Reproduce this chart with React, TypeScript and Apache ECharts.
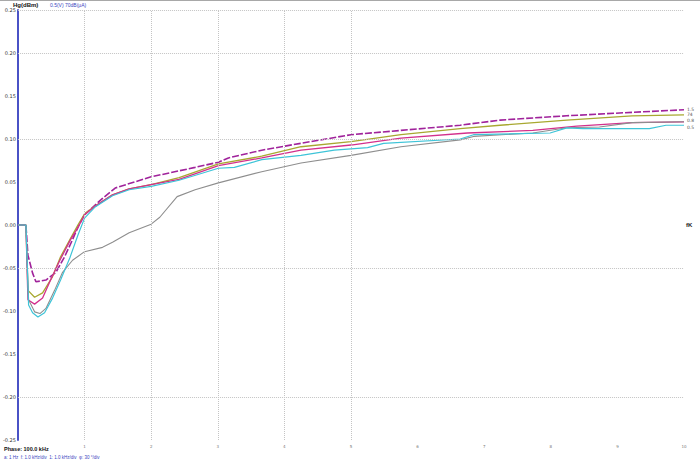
import React, { useEffect, useRef } from "react";
import * as echarts from "echarts";

const yTicks = { min: -0.25, max: 0.25, step: 0.05 };
const xTicks = { min: 0, max: 10, step: 1 };
const gridX = [1, 2, 3, 4, 5];
const gridY = [0.25, 0.2, 0.1, -0.05, -0.2];

const purple = [[0,0],[0.12,0],[0.15,-0.035],[0.22,-0.056],[0.27,-0.066],[0.42,-0.064],[0.57,-0.055],[0.70,-0.037],[0.82,-0.017],[0.91,-0.001],[1.0,0.012],[1.27,0.031],[1.46,0.043],[1.75,0.05],[2.0,0.056],[2.42,0.063],[2.66,0.067],[3.01,0.073],[3.16,0.078],[3.66,0.087],[4.25,0.095],[5.0,0.105],[5.75,0.11],[6.64,0.116],[7.24,0.122],[8.24,0.127],[9.22,0.131],[10,0.134]];
const olive = [[0,0],[0.12,0],[0.15,-0.076],[0.25,-0.084],[0.37,-0.079],[0.52,-0.06],[0.64,-0.037],[0.78,-0.017],[0.90,0],[1.0,0.013],[1.16,0.022],[1.42,0.035],[1.67,0.042],[2.0,0.047],[2.42,0.055],[3.01,0.071],[3.66,0.08],[4.25,0.091],[5.0,0.097],[5.75,0.105],[6.64,0.112],[7.24,0.116],[8.24,0.122],[9.22,0.127],[10,0.128]];
const pink = [[0,0],[0.12,0],[0.15,-0.087],[0.25,-0.092],[0.37,-0.085],[0.49,-0.064],[0.63,-0.041],[0.79,-0.017],[0.90,-0.003],[1.0,0.012],[1.16,0.022],[1.42,0.035],[1.67,0.042],[2.0,0.047],[2.42,0.053],[3.01,0.069],[3.66,0.078],[4.25,0.087],[5.0,0.093],[5.75,0.101],[6.75,0.107],[7.73,0.11],[8.39,0.115],[9.22,0.119],[10,0.12]];
const gray = [[0,0],[0.12,0],[0.16,-0.087],[0.25,-0.101],[0.33,-0.103],[0.42,-0.097],[0.55,-0.076],[0.67,-0.055],[0.82,-0.041],[1.0,-0.031],[1.27,-0.026],[1.42,-0.02],[1.67,-0.009],[2.0,0.001],[2.13,0.009],[2.39,0.033],[2.66,0.041],[3.01,0.049],[3.66,0.062],[4.25,0.072],[5.0,0.081],[5.75,0.091],[6.64,0.099],[6.84,0.103],[7.73,0.107],[8.24,0.113],[8.73,0.114],[9.22,0.119],[10,0.12]];
const cyan = [[0,0],[0.12,0],[0.16,-0.093],[0.22,-0.102],[0.30,-0.107],[0.40,-0.102],[0.52,-0.085],[0.64,-0.064],[0.78,-0.038],[0.90,-0.012],[1.0,0.008],[1.16,0.021],[1.42,0.034],[1.67,0.041],[2.0,0.045],[2.42,0.052],[3.01,0.066],[3.25,0.067],[3.66,0.076],[4.25,0.081],[4.75,0.087],[5.25,0.09],[5.49,0.095],[6.64,0.1],[6.84,0.105],[7.99,0.107],[8.24,0.113],[8.48,0.112],[9.48,0.112],[9.73,0.116],[10,0.116]];

const seriesDefs = [
  { name: "s1", data: purple, color: "#a0239b", end: "1.5", dash: [7, 2] as any, width: 1.6, off: [0, 0] },
  { name: "s2", data: olive, color: "#a8a830", end: "74", dash: "solid" as any, width: 1.3, off: [0, 0] },
  { name: "s3", data: pink, color: "#d3308c", end: "0.8", dash: "solid" as any, width: 1.3, off: [0, -1.5] },
  { name: "s4", data: gray, color: "#8e8e8e", end: "", dash: "solid" as any, width: 1.1, off: [0, 0] },
  { name: "s5", data: cyan, color: "#3ec4d8", end: "0.5", dash: "solid" as any, width: 1.2, off: [0, 2.5] },
];

export default function App() {
  const ref = useRef<HTMLDivElement>(null);
  useEffect(() => {
    if (!ref.current) return;
    const chart = echarts.init(ref.current, null, { renderer: "svg" });
    const gridLineStyle = { color: "#c4c4c4", type: [1, 1] as any, width: 1 };
    chart.setOption({
      animation: false,
      backgroundColor: "#ffffff",
      textStyle: { fontFamily: "DejaVu Sans" },
      grid: { left: 15, right: 16, top: 10, bottom: 25, containLabel: false },
      xAxis: {
        type: "value",
        min: xTicks.min,
        max: xTicks.max,
        interval: xTicks.step,
        axisLine: { show: false },
        axisTick: { show: false },
        splitLine: { show: false },
        axisLabel: {
          fontSize: 4,
          color: "#777",
          margin: 4,
          formatter: (v: number) => (v === 0 ? "" : String(v)),
        },
      },
      yAxis: {
        type: "value",
        min: yTicks.min,
        max: yTicks.max,
        interval: yTicks.step,
        axisLine: { show: true, lineStyle: { color: "#4a52c6", width: 2 } },
        axisTick: { show: false },
        splitLine: { show: false },
        axisLabel: {
          fontSize: 5,
          color: "#333",
          margin: 2,
          formatter: (v: number) => v.toFixed(2),
        },
      },
      series: [
        {
          type: "line",
          name: "grid",
          data: [],
          silent: true,
          markLine: {
            silent: true,
            symbol: ["none", "none"],
            label: { show: false },
            lineStyle: gridLineStyle,
            data: [
              ...gridX.map((x) => ({ xAxis: x })),
              ...gridY.map((y) => ({ yAxis: y })),
            ],
          },
        },
        ...seriesDefs.map((s) => ({
          type: "line",
          name: s.name,
          data: s.data,
          showSymbol: false,
          symbol: "none",
          lineStyle: { color: s.color, width: s.width, type: s.dash },
          itemStyle: { color: s.color },
          endLabel: {
            show: s.end !== "",
            formatter: () => s.end,
            fontSize: 4.5,
            color: "#555",
            distance: 3,
            offset: s.off,
          },
        })),
      ],
      graphic: [
        { type: "line", shape: { x1: 0, y1: 0.5, x2: 700, y2: 0.5 }, style: { stroke: "#a8a8a8", lineWidth: 1 } },
        { type: "text", left: 13, top: 2, style: { text: "Hg(dBm)", fontSize: 6, fontWeight: "bold", fill: "#111" } },
        { type: "text", left: 50, top: 2, style: { text: "0.5(V) 70dB(μA)", fontSize: 5, fill: "#3a44c0" } },
        { type: "text", left: 686, top: 222, style: { text: "fK", fontSize: 6, fontWeight: "bold", fill: "#222" } },
        { type: "text", left: 4, top: 446, style: { text: "Phase: 100.0 kHz", fontSize: 5.5, fontWeight: "bold", fill: "#111" } },
        { type: "text", left: 4, top: 455, style: { text: "a: 1 Hz  f: 1.0 kHz/div  1: 1.0 kHz/div  φ: 30 °/div", fontSize: 4.5, fill: "#3a44c0" } },
      ],
    });
    return () => chart.dispose();
  }, []);
  return (
    <div
      ref={ref}
      style={{ position: "fixed", left: 0, top: 0, width: 700, height: 465, background: "#fff" }}
    />
  );
}
